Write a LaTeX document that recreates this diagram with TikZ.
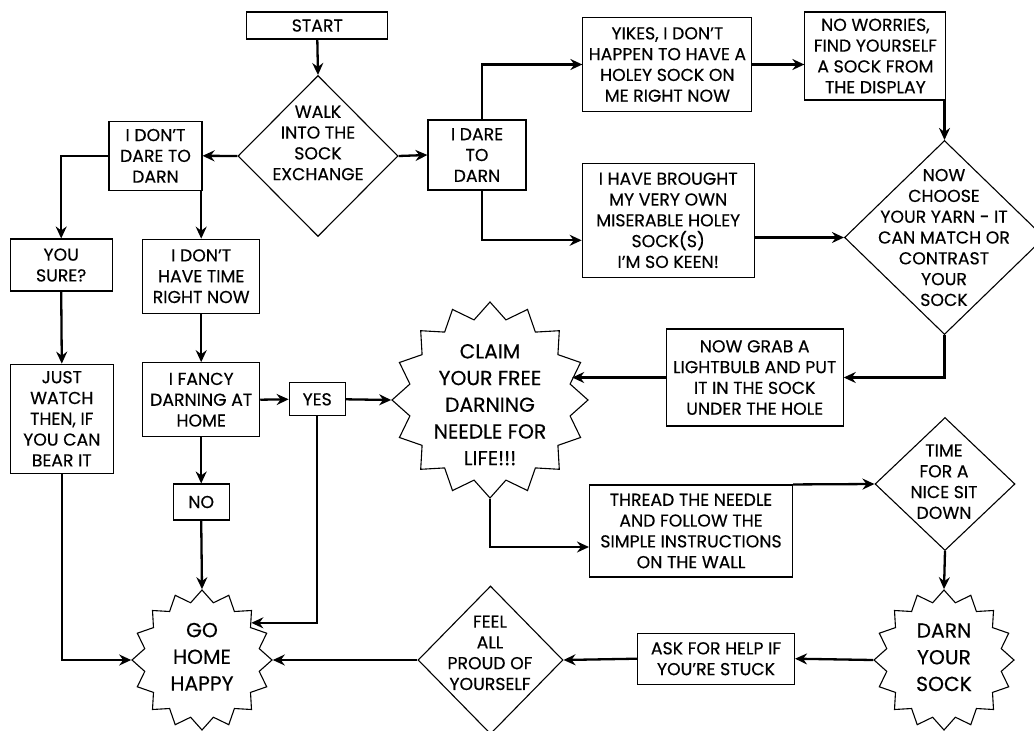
\documentclass[tikz,border=0pt]{standalone}
\usepackage{fontspec}
\setmainfont[FakeBold=0.35]{Poppins}
\usetikzlibrary{shapes.geometric,arrows.meta,calc}
\newcommand\ntxt{\fontsize{17.3}{20.8}\selectfont}
\newcommand\btxt{\fontsize{20.3}{26.7}\selectfont}
\begin{document}
\begin{tikzpicture}[x=1pt,y=-1pt,
  box/.style={draw, line width=1.1pt, align=center, inner sep=0pt, font=\ntxt},
  dia/.style={draw, diamond, line width=1.1pt, inner sep=0pt},
  burst/.style={draw, star, star points=16, star point ratio=1.2, line width=1.1pt, inner sep=0pt},
  txt/.style={align=center, inner sep=0pt, font=\ntxt},
  bigtxt/.style={align=center, inner sep=0pt, font=\btxt},
  conn/.style={line width=2.3pt, -{Stealth[length=12pt,width=11pt,inset=4pt]}},
]
\useasboundingbox (0,0) rectangle (1034,731);
\clip (0,0) rectangle (1034,731);

% boxes
\node[box, minimum width=141pt, minimum height=27pt] (start) at (317.3,25.5) {START};
\node[box, minimum width=93pt, minimum height=69pt] (dontdare) at (155.5,155.8) {I DON’T\\DARE TO\\DARN};
\node[box, minimum width=98pt, minimum height=70pt] (dare) at (477,155) {I DARE\\TO\\DARN};
\node[box, minimum width=169pt, minimum height=94pt] (yikes) at (667.4,64.5) {YIKES, I DON’T\\HAPPEN TO HAVE A\\HOLEY SOCK ON\\ME RIGHT NOW};
\node[box, minimum width=141pt, minimum height=88pt] (noworries) at (875.4,56) {NO WORRIES,\\FIND YOURSELF\\A SOCK FROM\\THE DISPLAY};
\node[box, minimum width=172pt, minimum height=114pt] (brought) at (668.2,220.3) {I HAVE BROUGHT\\MY VERY OWN\\MISERABLE HOLEY\\SOCK(S)\\I’M SO KEEN!};
\node[box, minimum width=102pt, minimum height=52pt] (sure) at (61.2,265) {YOU\\SURE?};
\node[box, minimum width=117pt, minimum height=74pt] (notime) at (201.2,276.2) {I DON’T\\HAVE TIME\\RIGHT NOW};
\node[box, minimum width=103pt, minimum height=109pt] (watch) at (61.8,418.7) {JUST\\WATCH\\THEN, IF\\YOU CAN\\BEAR IT};
\node[box, minimum width=117pt, minimum height=74pt] (fancy) at (201.2,399.7) {I FANCY\\DARNING AT\\HOME};
\node[box, minimum width=56pt, minimum height=33pt] (yes) at (317.2,399.3) {YES};
\node[box, minimum width=56pt, minimum height=36pt] (no) at (201.2,502) {NO};
\node[box, minimum width=177pt, minimum height=97pt] (grab) at (754.7,377.5) {NOW GRAB A\\LIGHTBULB AND PUT\\IT IN THE SOCK\\UNDER THE HOLE};
\node[box, minimum width=203pt, minimum height=92pt] (thread) at (691,531) {THREAD THE NEEDLE\\AND FOLLOW THE\\SIMPLE INSTRUCTIONS\\ON THE WALL};
\node[box, minimum width=157pt, minimum height=51pt] (ask) at (716,658.7) {ASK FOR HELP IF\\YOU’RE STUCK};

% diamonds
\node[dia, minimum width=160pt, minimum height=161pt] (walk) at (318,156) {};
\node[txt] (walkT) at (318,143) {WALK\\INTO THE\\SOCK\\EXCHANGE};
\node[dia, minimum width=200pt, minimum height=194pt] (choose) at (944.5,237.5) {};
\node[txt] (chooseT) at (944,237.5) {NOW\\CHOOSE\\YOUR YARN - IT\\CAN MATCH OR\\CONTRAST\\YOUR\\SOCK};
\node[dia, minimum width=140pt, minimum height=133pt] (time) at (945,484) {};
\node[txt] (timeT) at (944,481.7) {TIME\\FOR A\\NICE SIT\\DOWN};
\node[dia, minimum width=145pt, minimum height=148pt] (feel) at (490.5,660) {};
\node[txt] (feelT) at (490,652.8) {FEEL\\ALL\\PROUD OF\\YOURSELF};

% bursts
\node[burst, minimum size=196pt] (claim) at (490,400) {};
\node[bigtxt] (claimT) at (490,404.7) {CLAIM\\YOUR FREE\\DARNING\\NEEDLE FOR\\LIFE!!!};
\node[burst, minimum size=140pt] (gohome) at (202,660) {};
\node[bigtxt] (gohomeT) at (202,656.7) {GO\\HOME\\HAPPY};
\node[burst, minimum size=140pt] (darn) at (944,660) {};
\node[bigtxt] (darnT) at (944,657.3) {DARN\\YOUR\\SOCK};

\coordinate (dareX) at (482,0);

% connectors
\draw[conn] (start.south) -- (walk.north);
\draw[conn] (walk.west) -- (dontdare.east);
\draw[conn] (walk.east) -- (dare.west);
\draw[conn] (dontdare.west) -| (sure.north);
\draw[conn] (notime.north |- dontdare.south) -- (notime.north);
\draw[conn] (sure.south) -- (watch.north);
\draw[conn] (notime.south) -- (fancy.north);
\draw[conn] (fancy.east) -- (yes.west);
\draw[conn] (fancy.south) -- (no.north);
\draw[conn] (no.south) -- (gohome.north);
\draw[conn] (yes.east) -- (claim.west);
\draw[conn] (yes.south) |- (gohome.37);
\draw[conn] (watch.south) |- (gohome.west);
\draw[conn] (dare.north -| dareX) |- (yikes.west);
\draw[conn] (dare.south -| dareX) |- ([yshift=-20pt]brought.west);
\draw[conn] (yikes.east) -- (yikes.east -| noworries.west);
\draw[conn] (choose.north |- noworries.south) -- (choose.north);
\draw[conn] (brought.east |- choose.west) -- (choose.west);
\draw[conn] (choose.south) |- (grab.east);
\draw[conn] (grab.west) -- (grab.west -| claim.13);
\draw[conn] (claim.south) |- ([yshift=-16pt]thread.west);
\draw[conn] (thread.north east) -- (time.west);
\draw[conn] (time.south) -- (darn.north);
\draw[conn] (darn.west) -- (ask.east);
\draw[conn] (ask.west) -- (feel.east);
\draw[conn] (feel.west) -- (gohome.east);
\end{tikzpicture}
\end{document}
